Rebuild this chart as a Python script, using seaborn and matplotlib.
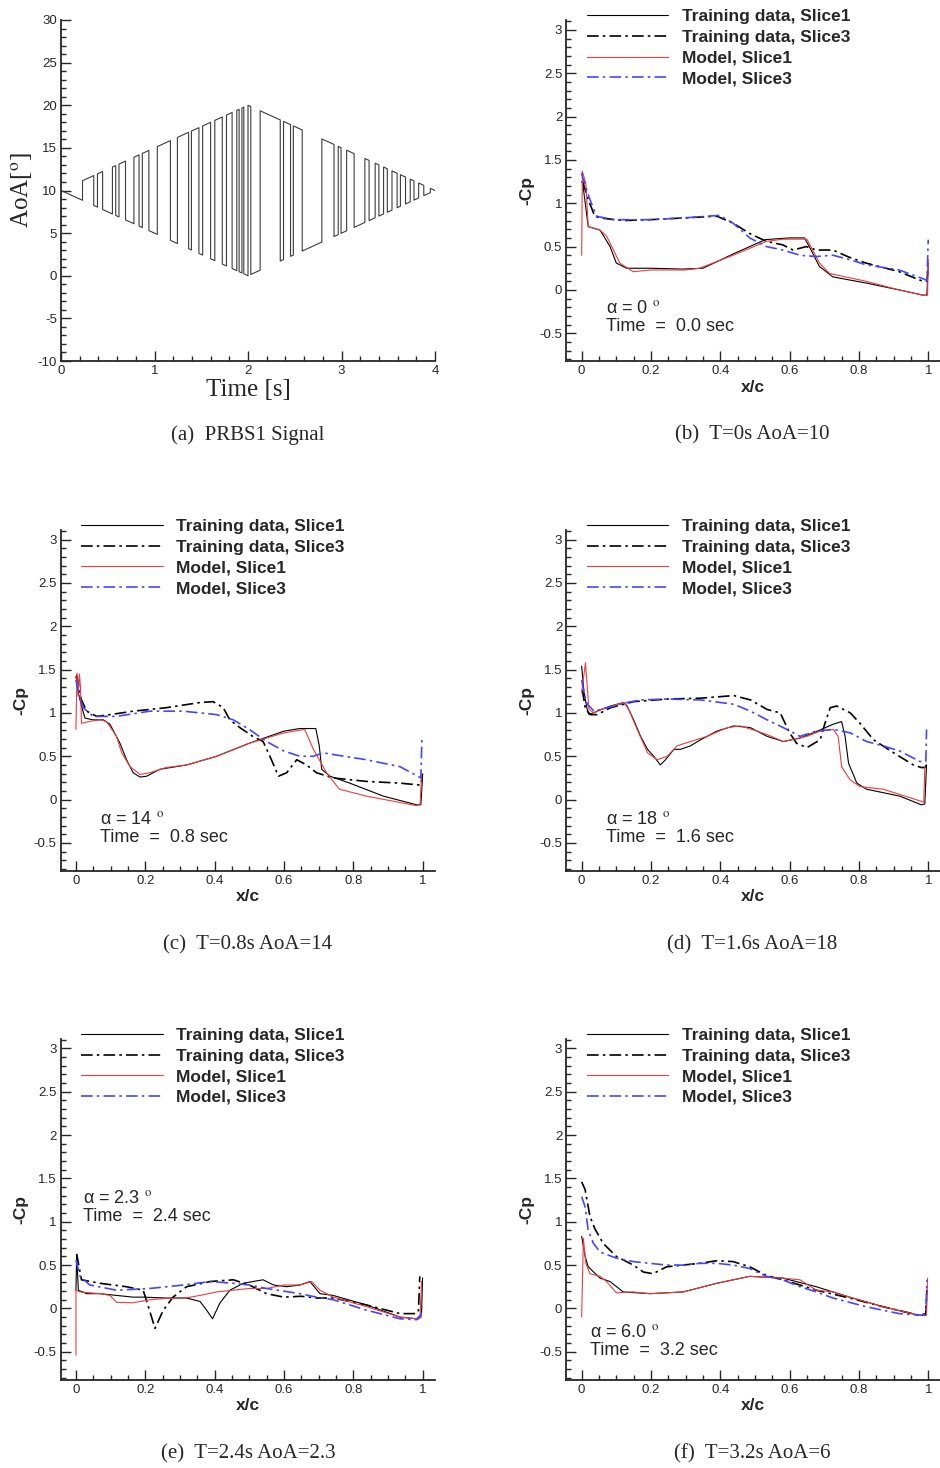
import matplotlib
matplotlib.use('Agg')
import matplotlib.pyplot as plt
import seaborn as sns
from matplotlib.ticker import MultipleLocator

# ---------------- data ----------------
# (a) PRBS1 signal: switch times and AoA just before / after each switch
sw_t = [0.23, 0.35, 0.39, 0.445, 0.55, 0.585, 0.62, 0.69, 0.78, 0.835, 0.87, 0.94,
        1.03, 1.17, 1.245, 1.365, 1.395, 1.475, 1.515, 1.60, 1.645, 1.725, 1.77, 1.83,
        1.88, 1.905, 1.935, 1.955, 2.00, 2.03, 2.13, 2.345, 2.38, 2.455, 2.485, 2.58,
        2.79, 2.92, 2.965, 2.995, 3.055, 3.135, 3.25, 3.295, 3.36, 3.40, 3.45, 3.49,
        3.54, 3.595, 3.63, 3.685, 3.735, 3.775, 3.825, 3.88, 3.95]
sw_before = [8.85, 11.75, 8.05, 12.225, 7.25, 12.925, 6.9, 13.45, 6.1, 14.175, 5.65, 14.7,
             4.85, 15.85, 3.775, 16.825, 3.025, 17.375, 2.425, 18.0, 1.775, 18.625, 1.15, 19.15,
             0.6, 19.525, 0.325, 19.775, 0.0, 19.85, 0.65, 18.275, 1.9, 17.725, 2.425, 17.1,
             3.95, 15.4, 4.825, 15.025, 5.275, 14.325, 6.25, 13.525, 6.8, 13.0, 7.25, 12.55,
             7.7, 12.025, 8.15, 11.575, 8.675, 11.125, 9.125, 10.6, 9.75]
sw_after = [11.15, 8.25, 11.95, 7.775, 12.75, 7.075, 13.1, 6.55, 13.9, 5.825, 14.35, 5.3,
            15.15, 4.15, 16.225, 3.175, 16.975, 2.625, 17.575, 2.0, 18.225, 1.375, 18.85, 0.85,
            19.4, 0.475, 19.675, 0.225, 20.0, 0.15, 19.35, 1.725, 18.1, 2.275, 17.575, 2.9,
            16.05, 4.6, 15.175, 4.975, 14.725, 5.675, 13.75, 6.475, 13.2, 7.0, 12.75, 7.45,
            12.3, 7.975, 11.85, 8.425, 11.325, 8.875, 10.875, 9.4, 10.25]
sig_start = (0.0, 10.0)
sig_end = (4.0, 10.0)

# (b) T=0s
b_t1_x = [0.0, 0.003, 0.019, 0.053, 0.082, 0.10, 0.13, 0.20, 0.29, 0.35, 0.44, 0.53, 0.60, 0.643, 0.662, 0.686, 0.725, 0.82, 0.916, 0.984, 0.996, 1.0]
b_t1_y = [1.25, 1.23, 0.73, 0.69, 0.50, 0.31, 0.25, 0.25, 0.24, 0.25, 0.42, 0.58, 0.60, 0.60, 0.46, 0.27, 0.15, 0.08, 0.0, -0.06, -0.06, 0.31]
b_t3_x = [0.003, 0.019, 0.038, 0.053, 0.12, 0.197, 0.293, 0.39, 0.437, 0.485, 0.533, 0.58, 0.61, 0.648, 0.677, 0.725, 0.77, 0.82, 0.916, 0.984, 0.996, 1.0]
b_t3_y = [1.25, 1.04, 0.85, 0.83, 0.80, 0.81, 0.83, 0.85, 0.77, 0.65, 0.56, 0.52, 0.46, 0.50, 0.46, 0.46, 0.38, 0.31, 0.21, 0.10, 0.10, 0.27]
b_m1_x = [0.0, 0.002, 0.012, 0.019, 0.053, 0.072, 0.11, 0.149, 0.20, 0.30, 0.34, 0.437, 0.533, 0.58, 0.65, 0.686, 0.715, 0.82, 0.916, 0.99, 0.998, 1.0]
b_m1_y = [0.40, 1.37, 1.23, 0.73, 0.69, 0.62, 0.31, 0.21, 0.23, 0.23, 0.25, 0.40, 0.56, 0.585, 0.585, 0.31, 0.19, 0.10, 0.0, -0.065, -0.06, 0.35]
b_m3_x = [0.0, 0.003, 0.024, 0.043, 0.091, 0.197, 0.293, 0.398, 0.437, 0.485, 0.533, 0.58, 0.63, 0.677, 0.725, 0.773, 0.82, 0.916, 0.984, 0.996, 1.0]
b_m3_y = [1.35, 1.30, 1.04, 0.85, 0.81, 0.81, 0.83, 0.86, 0.77, 0.60, 0.50, 0.46, 0.40, 0.385, 0.40, 0.35, 0.29, 0.23, 0.13, 0.11, 0.58]

# (c) T=0.8s
c_t1_x = [0.0, 0.007, 0.016, 0.026, 0.05, 0.079, 0.098, 0.127, 0.146, 0.165, 0.185, 0.204, 0.242, 0.32, 0.406, 0.50, 0.60, 0.646, 0.692, 0.702, 0.709, 0.733, 0.79, 0.887, 0.983, 0.995, 1.0]
c_t1_y = [1.42, 1.23, 1.08, 0.94, 0.92, 0.92, 0.87, 0.65, 0.46, 0.31, 0.26, 0.27, 0.35, 0.40, 0.50, 0.65, 0.79, 0.82, 0.82, 0.62, 0.35, 0.27, 0.19, 0.04, -0.06, -0.06, 0.27]
c_t3_x = [0.002, 0.016, 0.031, 0.06, 0.098, 0.165, 0.26, 0.358, 0.396, 0.425, 0.444, 0.473, 0.51, 0.54, 0.564, 0.584, 0.608, 0.637, 0.665, 0.694, 0.742, 0.838, 0.935, 0.987, 0.995, 1.0]
c_t3_y = [1.44, 1.15, 1.02, 0.96, 0.98, 1.02, 1.06, 1.12, 1.13, 1.06, 0.92, 0.83, 0.73, 0.67, 0.46, 0.27, 0.31, 0.46, 0.40, 0.31, 0.25, 0.21, 0.19, 0.17, 0.17, 0.30]
c_m1_x = [0.0, 0.003, 0.006, 0.010, 0.013, 0.016, 0.05, 0.07, 0.088, 0.117, 0.132, 0.156, 0.185, 0.213, 0.26, 0.32, 0.406, 0.50, 0.60, 0.66, 0.685, 0.723, 0.76, 0.838, 0.983, 0.993, 0.997]
c_m1_y = [0.81, 1.46, 1.20, 1.45, 1.30, 0.88, 0.91, 0.92, 0.90, 0.73, 0.54, 0.38, 0.29, 0.31, 0.37, 0.40, 0.50, 0.65, 0.77, 0.81, 0.58, 0.31, 0.12, 0.04, -0.07, -0.05, 0.27]
c_m3_x = [0.0, 0.007, 0.021, 0.05, 0.117, 0.213, 0.31, 0.406, 0.454, 0.50, 0.55, 0.60, 0.646, 0.685, 0.713, 0.742, 0.838, 0.935, 0.995, 0.998]
c_m3_y = [1.38, 1.23, 1.06, 0.96, 0.96, 1.02, 1.02, 0.98, 0.92, 0.81, 0.67, 0.56, 0.50, 0.50, 0.54, 0.52, 0.46, 0.38, 0.25, 0.69]

# (d) T=1.6s
d_t1_x = [0.0, 0.007, 0.016, 0.021, 0.045, 0.083, 0.122, 0.131, 0.15, 0.17, 0.19, 0.208, 0.227, 0.242, 0.266, 0.285, 0.314, 0.343, 0.39, 0.439, 0.487, 0.535, 0.582, 0.63, 0.68, 0.726, 0.75, 0.76, 0.77, 0.794, 0.822, 0.918, 0.98, 0.99, 0.995]
d_t1_y = [1.54, 1.23, 1.04, 0.98, 1.02, 1.08, 1.12, 1.08, 0.92, 0.73, 0.58, 0.50, 0.40, 0.46, 0.58, 0.58, 0.62, 0.69, 0.79, 0.85, 0.83, 0.73, 0.67, 0.71, 0.79, 0.87, 0.90, 0.73, 0.42, 0.19, 0.12, 0.04, -0.06, -0.05, 0.40]
d_t3_x = [0.002, 0.011, 0.026, 0.045, 0.083, 0.15, 0.247, 0.343, 0.439, 0.487, 0.535, 0.573, 0.60, 0.62, 0.65, 0.688, 0.702, 0.717, 0.736, 0.775, 0.803, 0.842, 0.90, 0.957, 0.98, 0.99, 0.995]
d_t3_y = [1.27, 1.04, 0.98, 0.98, 1.06, 1.13, 1.16, 1.17, 1.20, 1.15, 1.04, 1.0, 0.77, 0.65, 0.60, 0.69, 0.88, 1.06, 1.08, 1.0, 0.88, 0.69, 0.54, 0.40, 0.37, 0.37, 0.40]
d_m1_x = [0.0, 0.011, 0.014, 0.021, 0.036, 0.055, 0.103, 0.122, 0.136, 0.16, 0.19, 0.218, 0.247, 0.275, 0.314, 0.362, 0.42, 0.458, 0.506, 0.535, 0.582, 0.65, 0.688, 0.726, 0.74, 0.75, 0.774, 0.803, 0.87, 0.98, 0.987, 0.99]
d_m1_y = [1.23, 1.58, 1.42, 1.04, 1.0, 1.04, 1.10, 1.12, 1.04, 0.81, 0.54, 0.46, 0.50, 0.62, 0.67, 0.73, 0.83, 0.85, 0.79, 0.75, 0.67, 0.73, 0.79, 0.81, 0.73, 0.38, 0.23, 0.15, 0.12, -0.02, -0.03, 0.38]
d_m3_x = [0.0, 0.007, 0.016, 0.036, 0.074, 0.131, 0.17, 0.247, 0.343, 0.439, 0.487, 0.535, 0.582, 0.63, 0.677, 0.726, 0.775, 0.822, 0.87, 0.918, 0.976, 0.993, 0.995]
d_m3_y = [1.38, 1.23, 1.10, 1.02, 1.06, 1.12, 1.15, 1.16, 1.15, 1.10, 1.02, 0.92, 0.83, 0.73, 0.79, 0.81, 0.77, 0.67, 0.62, 0.56, 0.44, 0.44, 0.81]

# (e) T=2.4s
e_t1_x = [0.0, 0.002, 0.007, 0.031, 0.069, 0.165, 0.194, 0.26, 0.319, 0.358, 0.377, 0.394, 0.415, 0.444, 0.483, 0.51, 0.54, 0.57, 0.608, 0.646, 0.675, 0.704, 0.742, 0.838, 0.935, 0.983, 0.997, 1.0]
e_t1_y = [0.21, 0.62, 0.21, 0.17, 0.17, 0.13, 0.13, 0.12, 0.12, 0.08, -0.02, -0.12, 0.06, 0.21, 0.29, 0.31, 0.33, 0.27, 0.25, 0.27, 0.31, 0.17, 0.15, 0.04, -0.10, -0.12, -0.06, 0.35]
e_t3_x = [0.002, 0.016, 0.069, 0.146, 0.194, 0.209, 0.228, 0.252, 0.28, 0.319, 0.387, 0.454, 0.50, 0.55, 0.60, 0.65, 0.694, 0.742, 0.838, 0.935, 0.98, 0.988, 0.992]
e_t3_y = [0.63, 0.33, 0.29, 0.25, 0.21, 0.02, -0.23, -0.02, 0.13, 0.25, 0.31, 0.33, 0.27, 0.17, 0.13, 0.14, 0.12, 0.12, 0.04, -0.06, -0.06, -0.04, 0.37]
e_m1_x = [0.0, 0.0, 0.012, 0.069, 0.098, 0.117, 0.165, 0.213, 0.26, 0.31, 0.358, 0.406, 0.454, 0.50, 0.55, 0.60, 0.646, 0.68, 0.704, 0.742, 0.838, 0.935, 0.983, 0.993, 0.997]
e_m1_y = [-0.54, 0.21, 0.19, 0.17, 0.15, 0.07, 0.065, 0.10, 0.115, 0.115, 0.15, 0.19, 0.21, 0.23, 0.23, 0.27, 0.27, 0.31, 0.21, 0.13, 0.02, -0.10, -0.12, -0.08, 0.31]
e_m3_x = [0.0, 0.012, 0.04, 0.117, 0.213, 0.31, 0.387, 0.454, 0.50, 0.55, 0.646, 0.694, 0.742, 0.838, 0.935, 0.983, 0.995, 0.998]
e_m3_y = [0.56, 0.37, 0.27, 0.21, 0.23, 0.27, 0.31, 0.29, 0.27, 0.23, 0.17, 0.13, 0.10, -0.02, -0.12, -0.13, -0.10, 0.02]

# (f) T=3.2s
f_t1_x = [0.0, 0.01, 0.019, 0.053, 0.082, 0.12, 0.197, 0.293, 0.39, 0.485, 0.58, 0.677, 0.773, 0.869, 0.974, 0.993, 0.996]
f_t1_y = [0.83, 0.60, 0.48, 0.35, 0.31, 0.19, 0.17, 0.19, 0.29, 0.37, 0.35, 0.25, 0.13, 0.02, -0.08, -0.08, 0.21]
f_t3_x = [0.0, 0.01, 0.024, 0.038, 0.062, 0.10, 0.149, 0.178, 0.206, 0.245, 0.293, 0.34, 0.39, 0.437, 0.485, 0.533, 0.58, 0.63, 0.677, 0.773, 0.869, 0.974, 0.993, 0.996]
f_t3_y = [1.46, 1.37, 1.06, 0.92, 0.75, 0.60, 0.50, 0.42, 0.40, 0.48, 0.50, 0.52, 0.55, 0.54, 0.48, 0.38, 0.33, 0.27, 0.21, 0.12, 0.02, -0.08, -0.06, 0.21]
f_m1_x = [0.0, 0.005, 0.012, 0.024, 0.053, 0.072, 0.10, 0.149, 0.197, 0.293, 0.39, 0.485, 0.58, 0.63, 0.677, 0.725, 0.773, 0.869, 0.974, 0.995, 0.998]
f_m1_y = [-0.10, 0.81, 0.52, 0.40, 0.37, 0.31, 0.18, 0.19, 0.17, 0.19, 0.29, 0.37, 0.35, 0.33, 0.21, 0.19, 0.13, 0.02, -0.08, -0.08, 0.35]
f_m3_x = [0.0, 0.01, 0.019, 0.034, 0.053, 0.10, 0.149, 0.197, 0.245, 0.293, 0.34, 0.39, 0.437, 0.485, 0.533, 0.58, 0.63, 0.677, 0.725, 0.82, 0.916, 0.983, 0.993, 0.996]
f_m3_y = [1.29, 1.17, 0.90, 0.75, 0.65, 0.58, 0.54, 0.52, 0.50, 0.50, 0.52, 0.52, 0.50, 0.46, 0.37, 0.33, 0.25, 0.19, 0.12, 0.02, -0.06, -0.08, -0.07, 0.33]

series_labels = ['Training data, Slice1', 'Training data, Slice3', 'Model, Slice1', 'Model, Slice3']
alpha_txt = ['0', '14', '18', '2.3', '6.0']
time_txt = ['0.0', '0.8', '1.6', '2.4', '3.2']
captions = ['(a)  PRBS1 Signal', '(b)  T=0s AoA=10', '(c)  T=0.8s AoA=14',
            '(d)  T=1.6s AoA=18', '(e)  T=2.4s AoA=2.3', '(f)  T=3.2s AoA=6']

# ---------------- style ----------------
sns.set_style('ticks')
plt.rcParams['font.family'] = ['Liberation Sans', 'DejaVu Sans']
plt.rcParams['mathtext.fontset'] = 'stix'
plt.rcParams['axes.unicode_minus'] = False
SERIF = ['Liberation Serif', 'DejaVu Serif']
dashdot = (0, (7, 2.5, 1.5, 2.5))
styles = [dict(color='black', linestyle='-', lw=0.8),
          dict(color='black', linestyle=dashdot, lw=1.2),
          dict(color='#f03c3c', linestyle='-', lw=0.8),
          dict(color='#4646ff', linestyle=dashdot, lw=1.2)]

W, H = 940, 1468
fig = plt.figure(figsize=(W / 100, H / 100), dpi=100)


def px_axes(left, bottom, width, height):
    return fig.add_axes([left / W, 1 - bottom / H, width / W, height / H])


def style_axes(ax):
    sns.despine(ax=ax)
    for s in ['left', 'bottom']:
        ax.spines[s].set_linewidth(1.3)
    ax.tick_params(which='both', direction='in', labelsize=9.5, pad=3, width=1)
    ax.tick_params(which='major', length=7)
    ax.tick_params(which='minor', length=3.5)


# ---------------- (a) signal ----------------
ax = px_axes(61, 361, 374, 341)
sig_t = [sig_start[0]]
sig_v = [sig_start[1]]
for t, v0, v1 in zip(sw_t, sw_before, sw_after):
    sig_t += [t, t]
    sig_v += [v0, v1]
sig_t.append(sig_end[0])
sig_v.append(sig_end[1])
sns.lineplot(x=sig_t, y=sig_v, ax=ax, sort=False, estimator=None, color='#3c3c3c', lw=0.8)
ax.set_xlim(0, 4)
ax.set_ylim(-10, 30)
ax.set_xticks(range(0, 5))
ax.set_yticks(range(-10, 31, 5))
ax.xaxis.set_minor_locator(MultipleLocator(0.2))
ax.yaxis.set_minor_locator(MultipleLocator(1))
style_axes(ax)
ax.set_xlabel('')
ax.set_ylabel('')
ax.text(0.5, -29 / 341, 'Time [s]', transform=ax.transAxes, ha='center', va='center',
        fontsize=18, family=SERIF)
ax.text(-39 / 374, 0.5, r'AoA[$^{\mathrm{o}}$]', transform=ax.transAxes, ha='center', va='center',
        rotation=90, fontsize=18, family=SERIF)

# ---------------- Cp panels ----------------
panels = [
    ((566.4, 361), [(b_t1_x, b_t1_y), (b_t3_x, b_t3_y), (b_m1_x, b_m1_y), (b_m3_x, b_m3_y)], (0.07, -0.22)),
    ((60.7, 870.7), [(c_t1_x, c_t1_y), (c_t3_x, c_t3_y), (c_m1_x, c_m1_y), (c_m3_x, c_m3_y)], (0.069, -0.23)),
    ((566.4, 870.7), [(d_t1_x, d_t1_y), (d_t3_x, d_t3_y), (d_m1_x, d_m1_y), (d_m3_x, d_m3_y)], (0.07, -0.23)),
    ((60.7, 1379.5), [(e_t1_x, e_t1_y), (e_t3_x, e_t3_y), (e_m1_x, e_m1_y), (e_m3_x, e_m3_y)], (0.02, 1.27)),
    ((566.4, 1379.5), [(f_t1_x, f_t1_y), (f_t3_x, f_t3_y), (f_m1_x, f_m1_y), (f_m3_x, f_m3_y)], (0.024, -0.28)),
]
xt = [0, 0.2, 0.4, 0.6, 0.8, 1.0]
yt = [-0.5, 0, 0.5, 1, 1.5, 2, 2.5, 3]
for i, ((left, bottom), data, (tx, ty)) in enumerate(panels):
    ax = px_axes(left, bottom, 374, 340.7)
    for (xs, ys), lab, st in zip(data, series_labels, styles):
        sns.lineplot(x=xs, y=ys, ax=ax, sort=False, estimator=None, label=lab, **st)
    ax.set_xlim(-0.044, 1.035)
    ax.set_ylim(-0.82, 3.11)
    ax.set_xticks(xt, ['0', '0.2', '0.4', '0.6', '0.8', '1'])
    ax.set_yticks(yt, ['-0.5', '0', '0.5', '1', '1.5', '2', '2.5', '3'])
    ax.xaxis.set_minor_locator(MultipleLocator(0.05))
    ax.yaxis.set_minor_locator(MultipleLocator(0.1))
    style_axes(ax)
    ax.set_xlabel('')
    ax.set_ylabel('')
    ax.text(0.5, -26 / 340.7, 'x/c', transform=ax.transAxes, ha='center', va='center',
            fontsize=12.5, fontweight='bold')
    ax.text(-40 / 374, 0.5, '-Cp', transform=ax.transAxes, ha='center', va='center',
            rotation=90, fontsize=12.5, fontweight='bold')
    ax.text(tx, ty, 'α = ' + alpha_txt[i] + r' $^{\mathrm{o}}$', fontsize=13, va='center')
    ax.text(tx, ty - 0.205, 'Time  =  ' + time_txt[i] + ' sec', fontsize=13, va='center')
    ax.legend(loc='upper left', bbox_to_anchor=(0.031, 1.058), frameon=False, borderpad=0,
              handlelength=4.7, handletextpad=0.78, labelspacing=0.32,
              prop={'weight': 'bold', 'size': 12.5})

# captions
cap_pos = [(248, 435), (752, 435), (248, 945), (752, 945), (248, 1454), (752, 1454)]
for (cx, cy), cap in zip(cap_pos, captions):
    fig.text(cx / W, 1 - cy / H, cap, ha='center', va='center', fontsize=15, family=SERIF)

fig.savefig('out.png', dpi=100)
